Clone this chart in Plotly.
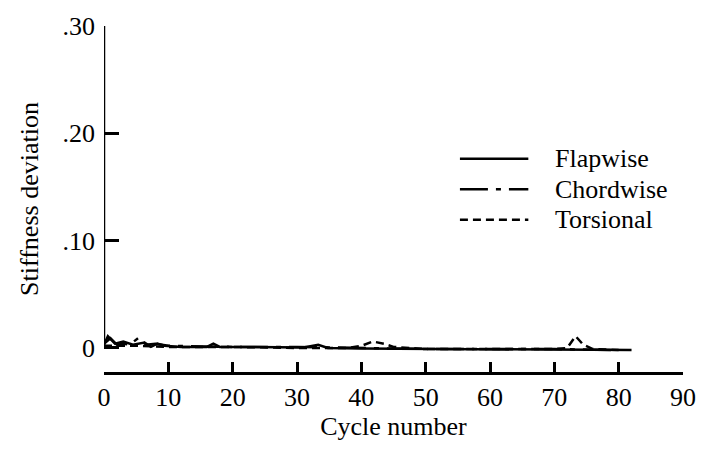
import plotly.graph_objects as go

# ---- data ----
flap_x = [0, 0.6, 1.7, 3, 4.5, 6.3, 7.3, 8.3, 9.4, 12, 16, 17, 18, 25, 31, 33.3, 34.8, 40, 50, 60, 70, 76, 82]
flap_y = [0.003, 0.011, 0.004, 0.006, 0.003, 0.005, 0.001, 0.004, 0.002, 0.001, 0.001, 0.004, 0.001,
          0.0005, 0.0005, 0.003, 0.0, -0.0005, -0.001, -0.0015, -0.0015, -0.002, -0.002]

chord_x = [0, 1, 2, 3, 4, 5.5, 6.5, 8, 10, 20, 30, 40, 50, 60, 70, 80]
chord_y = [0.004, 0.009, 0.003, 0.004, 0.003, 0.010, 0.003, 0.004, 0.002, 0.001, 0.001, 0.0,
           -0.001, -0.001, -0.001, -0.002]

tors_x = [0, 5, 10, 20, 30, 38, 40, 41.8, 43.5, 45, 50, 60, 70, 72, 73.3, 74.5, 76, 80]
tors_y = [0.002, 0.002, 0.001, 0.001, 0.0, 0.0, 0.002, 0.006, 0.004, 0.001, -0.001, -0.001,
          -0.001, 0.0, 0.011, 0.003, -0.001, -0.002]

series_names = ["Flapwise", "Chordwise", "Torsional"]
x_ticks = [0, 10, 20, 30, 40, 50, 60, 70, 80, 90]
y_ticks = [0, 0.10, 0.20, 0.30]
y_ticktext = ["0", ".10", ".20", ".30"]

# ---- style ----
FONT = "Liberation Serif, Times New Roman, DejaVu Serif, serif"
FS = 26
W, H = 708, 449
L, R, T, B = 104, 20, 20, 77
dashes = ["solid", "28px,8px,5px,8px", "8px,5px"]

fig = go.Figure()
for xs, ys, name, d in zip([flap_x, chord_x, tors_x], [flap_y, chord_y, tors_y], series_names, dashes):
    fig.add_trace(go.Scatter(x=xs, y=ys, mode="lines", name=name,
                             line=dict(color="black", width=2.5, dash=d), showlegend=False))

def px_x(p):
    return (p - L) / (W - L - R)

def px_y(p):
    return (H - B - p) / (H - T - B)

# manual legend
leg_y = [155, 186, 217]
for name, d, py in zip(series_names, dashes, leg_y):
    fig.add_shape(type="line", xref="paper", yref="paper",
                  x0=px_x(463), x1=px_x(532), y0=px_y(py), y1=px_y(py),
                  line=dict(color="black", width=2.5, dash=d))
    fig.add_annotation(x=px_x(557), y=px_y(py), xref="paper", yref="paper", text=name,
                       showarrow=False, xanchor="left", yanchor="middle",
                       font=dict(family=FONT, size=FS, color="black"))

# y axis line (stops at 0)
fig.add_shape(type="line", xref="x", yref="y", x0=0, x1=0, y0=0, y1=0.30,
              line=dict(color="black", width=2.5))

fig.update_layout(
    width=W, height=H, margin=dict(l=L, r=R, t=T, b=B),
    paper_bgcolor="white", plot_bgcolor="white",
    font=dict(family=FONT, size=FS, color="black"),
    xaxis=dict(range=[0, 90], tickvals=x_ticks, showline=True, linecolor="black", linewidth=2.5,
               ticks="inside", ticklen=10, tickwidth=2.5, tickcolor="black",
               showgrid=False, zeroline=False, ticklabelstandoff=0,
               tickfont=dict(family=FONT, size=FS),
               title=dict(text="Cycle number", font=dict(family=FONT, size=FS), standoff=4)),
    yaxis=dict(range=[-0.0224, 0.30], tickvals=y_ticks, ticktext=y_ticktext, showline=False,
               ticks="inside", ticklen=15, tickwidth=2.5, tickcolor="black",
               showgrid=False, zeroline=False, ticklabelstandoff=8,
               tickfont=dict(family=FONT, size=FS),
               title=dict(text="Stiffness deviation", font=dict(family=FONT, size=FS), standoff=16)),
)

fig.write_html("out.html")
